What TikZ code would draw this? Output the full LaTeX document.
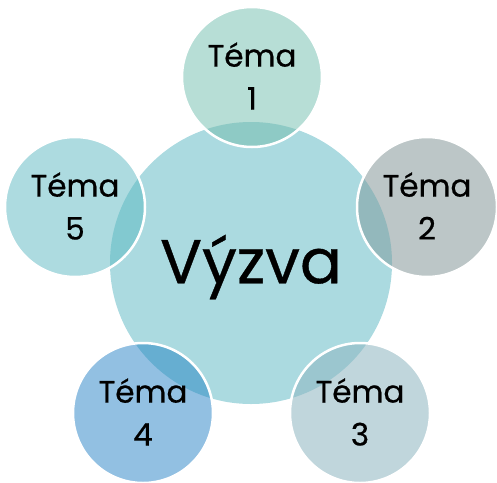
\documentclass[tikz,border=0pt]{standalone}
\usepackage{fontspec}
\setmainfont{Poppins}[FakeBold=0.6]
\definecolor{cmain}{HTML}{ABDAE0}
\definecolor{cone}{HTML}{B7DED6}\definecolor{oone}{HTML}{8ECAC5}
\definecolor{ctwo}{HTML}{BCC6C7}\definecolor{otwo}{HTML}{93B8BC}
\definecolor{cthree}{HTML}{C0D6DC}\definecolor{othree}{HTML}{9BC6CF}
\definecolor{cfour}{HTML}{92C0E2}\definecolor{ofour}{HTML}{66AED1}
\definecolor{cfive}{HTML}{ADDBE0}\definecolor{ofive}{HTML}{82C9D0}
\tikzset{
  sat/.style={circle,minimum size=140pt,inner sep=0pt,align=center,
    font=\fontsize{31}{43}\selectfont,text=black},
  ring/.style={draw=white,line width=2.5pt},
}
\begin{document}
\begin{tikzpicture}[x=1pt,y=-1pt]
\useasboundingbox (0,0) rectangle (497,482);
\coordinate (m) at (251,263);
\coordinate (p1) at (252,77);
\coordinate (p2) at (427,207);
\coordinate (p3) at (360,413);
\coordinate (p4) at (143,413);
\coordinate (p5) at (75,207);
\fill[cmain] (m) circle (141);
\foreach \p/\c/\o in {p1/cone/oone,p2/ctwo/otwo,p3/cthree/othree,p4/cfour/ofour,p5/cfive/ofive}{
  \fill[\c] (\p) circle (70);
  \begin{scope}
    \clip (m) circle (141);
    \fill[\o] (\p) circle (70);
  \end{scope}
  \draw[ring] (\p) circle (70);
}
\node[font=\fontsize{62}{70}\selectfont] (t0) at (251,267) {Výzva};
\node[sat] (t1) at ([yshift=1pt]p1) {Téma\\1};
\node[sat] (t2) at ([yshift=1pt]p2) {Téma\\2};
\node[sat] (t3) at ([yshift=1pt]p3) {Téma\\3};
\node[sat] (t4) at ([yshift=1pt]p4) {Téma\\4};
\node[sat] (t5) at ([yshift=1pt]p5) {Téma\\5};
\end{tikzpicture}
\end{document}
